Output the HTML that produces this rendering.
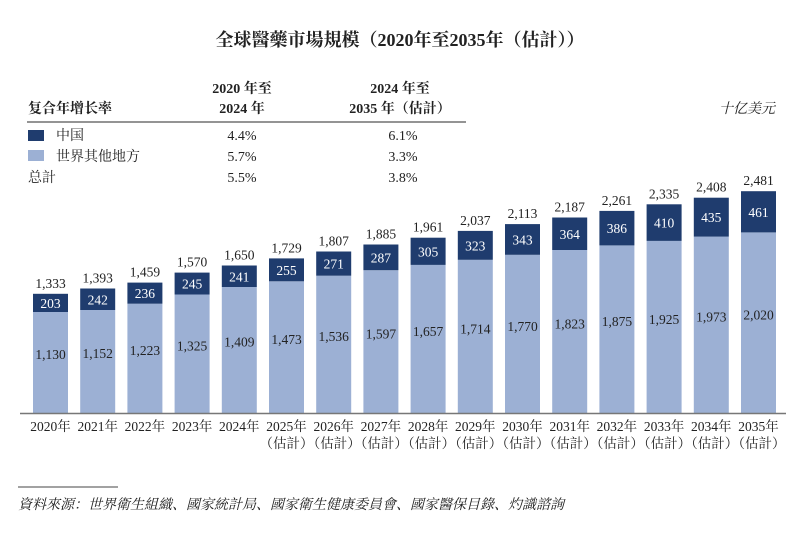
<!DOCTYPE html>
<html><head><meta charset="utf-8"><style>
body{margin:0;background:#fff;}
svg text{font-family:"Liberation Serif","Noto Serif CJK SC",serif;fill:#222;}
.l{fill:#9cb0d4}.d{fill:#1f3c6e}
text.w{fill:#fff}
</style></head><body>
<svg width="800" height="539" viewBox="0 0 800 539" xmlns="http://www.w3.org/2000/svg">
<text x="400" y="46" font-size="18" font-weight="bold" text-anchor="middle">全球醫藥市場規模（2020年至2035年（估計））</text>
<text x="242" y="93" font-size="14" font-weight="bold" text-anchor="middle">2020 年至</text>
<text x="242" y="113" font-size="14" font-weight="bold" text-anchor="middle">2024 年</text>
<text x="400" y="93" font-size="14" font-weight="bold" text-anchor="middle">2024 年至</text>
<text x="400" y="113" font-size="14" font-weight="bold" text-anchor="middle">2035 年（估計）</text>
<text x="28" y="113" font-size="14" font-weight="bold">复合年增长率</text>
<text x="775" y="113" font-size="14" font-style="italic" text-anchor="end">十亿美元</text>
<line x1="27" y1="122" x2="466" y2="122" stroke="#555" stroke-width="1.2"/>
<rect x="28" y="130" width="16" height="11" fill="#1f3c6e"/>
<text x="56" y="140" font-size="14">中国</text>
<rect x="28" y="150" width="16" height="11" fill="#9cb0d4"/>
<text x="56" y="161" font-size="14">世界其他地方</text>
<text x="28" y="182" font-size="14">总計</text>
<text x="242" y="140" font-size="14" text-anchor="middle">4.4%</text>
<text x="242" y="161" font-size="14" text-anchor="middle">5.7%</text>
<text x="242" y="182" font-size="14" text-anchor="middle">5.5%</text>
<text x="403" y="140" font-size="14" text-anchor="middle">6.1%</text>
<text x="403" y="161" font-size="14" text-anchor="middle">3.3%</text>
<text x="403" y="182" font-size="14" text-anchor="middle">3.8%</text>

<g font-size="13.5" text-anchor="middle">
<g transform="translate(33,0)"><rect class="l" x="0" y="312" width="35" height="101"/><rect class="d" x="0" y="293.8" width="35" height="18.2"/><text x="17.5" y="359">1,130</text><text class="w" x="17.5" y="308">203</text><text x="17.5" y="287.8">1,333</text><text x="17.5" y="431">2020年</text></g>
<g transform="translate(80.2,0)"><rect class="l" x="0" y="310" width="35" height="103"/><rect class="d" x="0" y="288.5" width="35" height="21.5"/><text x="17.5" y="358">1,152</text><text class="w" x="17.5" y="304.3">242</text><text x="17.5" y="282.5">1,393</text><text x="17.5" y="431">2021年</text></g>
<g transform="translate(127.4,0)"><rect class="l" x="0" y="303.7" width="35" height="109.3"/><rect class="d" x="0" y="282.6" width="35" height="21.1"/><text x="17.5" y="355">1,223</text><text class="w" x="17.5" y="298.2">236</text><text x="17.5" y="276.6">1,459</text><text x="17.5" y="431">2022年</text></g>
<g transform="translate(174.6,0)"><rect class="l" x="0" y="294.5" width="35" height="118.5"/><rect class="d" x="0" y="272.6" width="35" height="21.9"/><text x="17.5" y="350.5">1,325</text><text class="w" x="17.5" y="288.6">245</text><text x="17.5" y="266.6">1,570</text><text x="17.5" y="431">2023年</text></g>
<g transform="translate(221.8,0)"><rect class="l" x="0" y="287" width="35" height="126"/><rect class="d" x="0" y="265.5" width="35" height="21.5"/><text x="17.5" y="346.5">1,409</text><text class="w" x="17.5" y="281.3">241</text><text x="17.5" y="259.5">1,650</text><text x="17.5" y="431">2024年</text></g>
<g transform="translate(269,0)"><rect class="l" x="0" y="281.3" width="35" height="131.7"/><rect class="d" x="0" y="258.4" width="35" height="22.9"/><text x="17.5" y="344">1,473</text><text class="w" x="17.5" y="274.9">255</text><text x="17.5" y="252.4">1,729</text><text x="17.5" y="431">2025年</text><text x="17.5" y="448">（估計）</text></g>
<g transform="translate(316.2,0)"><rect class="l" x="0" y="275.7" width="35" height="137.3"/><rect class="d" x="0" y="251.5" width="35" height="24.2"/><text x="17.5" y="341">1,536</text><text class="w" x="17.5" y="268.6">271</text><text x="17.5" y="245.5">1,807</text><text x="17.5" y="431">2026年</text><text x="17.5" y="448">（估計）</text></g>
<g transform="translate(363.4,0)"><rect class="l" x="0" y="270.2" width="35" height="142.8"/><rect class="d" x="0" y="244.5" width="35" height="25.7"/><text x="17.5" y="338.5">1,597</text><text class="w" x="17.5" y="262.4">287</text><text x="17.5" y="238.5">1,885</text><text x="17.5" y="431">2027年</text><text x="17.5" y="448">（估計）</text></g>
<g transform="translate(410.6,0)"><rect class="l" x="0" y="264.9" width="35" height="148.1"/><rect class="d" x="0" y="237.7" width="35" height="27.2"/><text x="17.5" y="336">1,657</text><text class="w" x="17.5" y="256.3">305</text><text x="17.5" y="231.7">1,961</text><text x="17.5" y="431">2028年</text><text x="17.5" y="448">（估計）</text></g>
<g transform="translate(457.8,0)"><rect class="l" x="0" y="259.8" width="35" height="153.2"/><rect class="d" x="0" y="230.9" width="35" height="28.9"/><text x="17.5" y="333.5">1,714</text><text class="w" x="17.5" y="250.4">323</text><text x="17.5" y="224.9">2,037</text><text x="17.5" y="431">2029年</text><text x="17.5" y="448">（估計）</text></g>
<g transform="translate(505,0)"><rect class="l" x="0" y="254.8" width="35" height="158.2"/><rect class="d" x="0" y="224.1" width="35" height="30.7"/><text x="17.5" y="331">1,770</text><text class="w" x="17.5" y="244.5">343</text><text x="17.5" y="218.1">2,113</text><text x="17.5" y="431">2030年</text><text x="17.5" y="448">（估計）</text></g>
<g transform="translate(552.2,0)"><rect class="l" x="0" y="250" width="35" height="163"/><rect class="d" x="0" y="217.5" width="35" height="32.5"/><text x="17.5" y="328.5">1,823</text><text class="w" x="17.5" y="238.8">364</text><text x="17.5" y="211.5">2,187</text><text x="17.5" y="431">2031年</text><text x="17.5" y="448">（估計）</text></g>
<g transform="translate(599.4,0)"><rect class="l" x="0" y="245.4" width="35" height="167.6"/><rect class="d" x="0" y="210.9" width="35" height="34.5"/><text x="17.5" y="326">1,875</text><text class="w" x="17.5" y="233.2">386</text><text x="17.5" y="204.9">2,261</text><text x="17.5" y="431">2032年</text><text x="17.5" y="448">（估計）</text></g>
<g transform="translate(646.6,0)"><rect class="l" x="0" y="240.9" width="35" height="172.1"/><rect class="d" x="0" y="204.3" width="35" height="36.6"/><text x="17.5" y="324">1,925</text><text class="w" x="17.5" y="227.6">410</text><text x="17.5" y="198.3">2,335</text><text x="17.5" y="431">2033年</text><text x="17.5" y="448">（估計）</text></g>
<g transform="translate(693.8,0)"><rect class="l" x="0" y="236.6" width="35" height="176.4"/><rect class="d" x="0" y="197.7" width="35" height="38.9"/><text x="17.5" y="321.5">1,973</text><text class="w" x="17.5" y="222.2">435</text><text x="17.5" y="191.7">2,408</text><text x="17.5" y="431">2034年</text><text x="17.5" y="448">（估計）</text></g>
<g transform="translate(741,0)"><rect class="l" x="0" y="232.4" width="35" height="180.6"/><rect class="d" x="0" y="191.2" width="35" height="41.2"/><text x="17.5" y="319.5">2,020</text><text class="w" x="17.5" y="216.8">461</text><text x="17.5" y="185.2">2,481</text><text x="17.5" y="431">2035年</text><text x="17.5" y="448">（估計）</text></g>
</g>

<line x1="20" y1="413.5" x2="786" y2="413.5" stroke="#777" stroke-width="1.5"/>
<line x1="18" y1="487" x2="118" y2="487" stroke="#444" stroke-width="1"/>
<text x="18" y="509" font-size="14" font-style="italic">資料來源：世界衛生組織、國家統計局、國家衛生健康委員會、國家醫保目錄、灼識諮詢</text>
</svg>
</body></html>
